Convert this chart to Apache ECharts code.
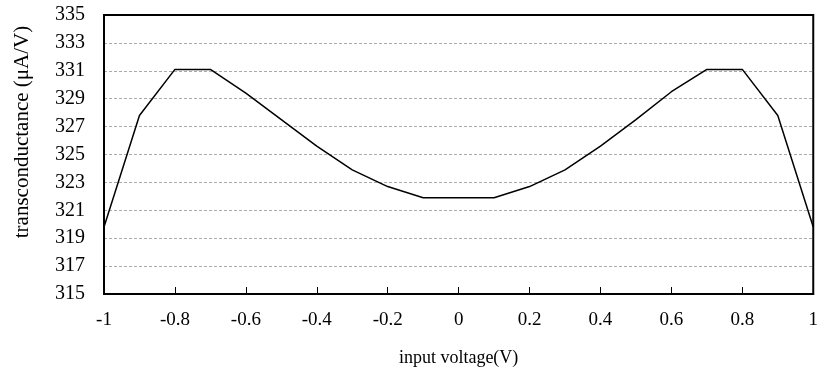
<!DOCTYPE html>
<html>
<head>
<meta charset="utf-8">
<script src="https://cdn.jsdelivr.net/npm/echarts@6/dist/echarts.min.js"></script>
<style>html,body{margin:0;padding:0;background:#fff}#c{width:821px;height:377px}</style>
</head>
<body>
<div id="c"></div>
<script>
const voltages = [-1, -0.9, -0.8, -0.7, -0.6, -0.5, -0.4, -0.3, -0.2, -0.1, 0, 0.1, 0.2, 0.3, 0.4, 0.5, 0.6, 0.7, 0.8, 0.9, 1];
const transconductance = [319.8, 327.8, 331.1, 331.1, 329.4, 327.5, 325.6, 323.9, 322.7, 321.9, 321.9, 321.9, 322.7, 323.9, 325.6, 327.5, 329.5, 331.1, 331.1, 327.8, 319.8];
const xAxisTitle = 'input voltage(V)';
const yAxisTitle = 'transconductance (μA/V)';

const chart = echarts.init(document.getElementById('c'), null, {renderer: 'canvas'});
const font = 'Liberation Serif, Times New Roman, serif';
chart.setOption({
  animation: false,
  grid: {left: 104, right: 4, top: 15, bottom: 83, show: true, borderColor: '#000', borderWidth: 2, backgroundColor: 'transparent', z: 5},
  xAxis: {
    type: 'value', min: -1, max: 1, interval: 0.2,
    axisLine: {show: true, onZero: false, lineStyle: {color: '#000', width: 2}},
    axisTick: {show: true, inside: true, length: 7, lineStyle: {color: '#000', width: 1}},
    splitLine: {show: false},
    axisLabel: {margin: 17, color: '#000', fontFamily: font, fontSize: 19, showMinLabel: true, showMaxLabel: true,
      formatter: v => String(Math.round(v * 10) / 10)},
    name: xAxisTitle, nameLocation: 'middle', nameGap: 55,
    nameTextStyle: {color: '#000', fontFamily: font, fontSize: 18}
  },
  yAxis: {
    type: 'value', min: 315, max: 335, interval: 2,
    axisLine: {show: true, onZero: false, lineStyle: {color: '#000', width: 2}},
    axisTick: {show: false},
    splitLine: {show: true, showMinLine: false, showMaxLine: false, lineStyle: {color: '#aaa', width: 1, type: [3, 2]}},
    axisLabel: {margin: 19, color: '#000', fontFamily: font, fontSize: 20}
  },
  graphic: [{
    type: 'text', x: 22, y: 132, rotation: Math.PI / 2,
    style: {text: yAxisTitle, fill: '#000', font: '21px ' + font, align: 'center', verticalAlign: 'middle'}
  }],
  series: [{
    type: 'line', data: voltages.map((v, i) => [v, transconductance[i]]),
    showSymbol: false, symbol: 'none',
    lineStyle: {color: '#000', width: 1.5}
  }]
});
</script>
</body>
</html>
